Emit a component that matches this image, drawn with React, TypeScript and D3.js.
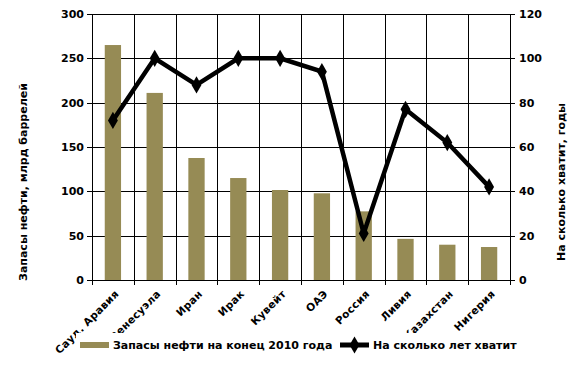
import React from 'react';
import * as d3 from 'd3';

const countries = ['Сауд. Аравия', 'Венесуэла', 'Иран', 'Ирак', 'Кувейт', 'ОАЭ', 'Россия', 'Ливия', 'Казахстан', 'Нигерия'];
const reserves = [265, 211, 137.6, 115, 101.5, 97.8, 77.4, 46.4, 39.8, 37.2];
const yearsLeft = [72, 100, 88, 100, 100, 94, 21, 77, 62, 42];
const leftTicks = [0, 50, 100, 150, 200, 250, 300];
const rightTicks = [0, 20, 40, 60, 80, 100, 120];

const W = 586;
const H = 366;
const margin = { top: 14, right: 76, bottom: 86, left: 92 };
const font = 'DejaVu Sans, sans-serif';
const barColor = '#968b55';

export default function App() {
    const width = W - margin.left - margin.right;
    const height = H - margin.top - margin.bottom;

    const x = d3.scaleBand().domain(countries).range([0, width]);
    const yL = d3.scaleLinear().domain([0, 300]).range([height, 0]);
    const yR = d3.scaleLinear().domain([0, 120]).range([height, 0]);
    const barW = x.bandwidth() * 0.39;

    const line = d3
        .line<number>()
        .x((d, i) => x(countries[i])! + x.bandwidth() / 2)
        .y((d) => yR(d));

    const diamond = d3.symbol().type(d3.symbolDiamond).size(85)();
    const titleY = 182 - margin.top;

    return (
        <svg width={W} height={H} style={{ position: 'absolute', left: 0, top: 0, background: '#fff' }}>
            <g transform={`translate(${margin.left},${margin.top})`} fontFamily={font} fontWeight="bold">
                {/* gridlines */}
                {leftTicks.map((t) => (
                    <line key={'h' + t} x1={0} x2={width} y1={Math.round(yL(t)) + 0.5} y2={Math.round(yL(t)) + 0.5} stroke="#000" />
                ))}
                {countries.map((c) => (
                    <line key={'v' + c} x1={Math.round(x(c)!) + 0.5} x2={Math.round(x(c)!) + 0.5} y1={0} y2={height + 5} stroke="#000" />
                ))}
                <line x1={width + 0.5} x2={width + 0.5} y1={0} y2={height + 5} stroke="#000" />

                {/* bars */}
                {reserves.map((v, i) => (
                    <rect
                        key={'b' + i}
                        x={x(countries[i])! + (x.bandwidth() - barW) / 2}
                        y={yL(v)}
                        width={barW}
                        height={height - yL(v)}
                        fill={barColor}
                    />
                ))}

                {/* left axis */}
                {leftTicks.map((t) => (
                    <g key={'lt' + t} transform={`translate(0,${Math.round(yL(t)) + 0.5})`}>
                        <line x1={-5} x2={0} stroke="#000" />
                        <text x={-8} dy="0.35em" textAnchor="end" fontSize={11}>{t}</text>
                    </g>
                ))}
                {/* right axis */}
                {rightTicks.map((t) => (
                    <g key={'rt' + t} transform={`translate(${width},${Math.round(yR(t)) + 0.5})`}>
                        <line x1={0} x2={5} stroke="#000" />
                        <text x={9} dy="0.35em" textAnchor="start" fontSize={11}>{t}</text>
                    </g>
                ))}

                {/* line series */}
                <path d={line(yearsLeft) ?? ''} fill="none" stroke="#000" strokeWidth={4.5} strokeLinejoin="miter" />
                {yearsLeft.map((v, i) => (
                    <path
                        key={'m' + i}
                        d={diamond!}
                        transform={`translate(${x(countries[i])! + x.bandwidth() / 2},${yR(v)})`}
                        fill="#000"
                    />
                ))}

                {/* category labels */}
                {countries.map((c) => (
                    <text
                        key={'c' + c}
                        transform={`translate(${x(c)! + x.bandwidth() / 2 + 4},${height + 12}) rotate(-45)`}
                        textAnchor="end"
                        fontSize={10.5}
                        dy="0.35em"
                        letterSpacing={0.3}
                    >
                        {c}
                    </text>
                ))}

                {/* axis titles */}
                <text transform={`translate(${-65},${titleY}) rotate(-90)`} textAnchor="middle" fontSize={11}>
                    Запасы нефти, млрд баррелей
                </text>
                <text transform={`translate(${width + 55},${titleY}) rotate(-90)`} textAnchor="middle" fontSize={11}>
                    На сколько хватит, годы
                </text>
            </g>

            {/* legend */}
            <g fontFamily={font} fontWeight="bold" fontSize={11}>
                <rect x={76} y={333} width={446} height={22} fill="#fff" />
                <rect x={80} y={342} width={29} height={6} fill={barColor} />
                <text x={113} y={345} dy="0.35em">Запасы нефти на конец 2010 года</text>
                <line x1={340} x2={369} y1={345} y2={345} stroke="#000" strokeWidth={5} />
                <path d={diamond!} transform="translate(354.5,345)" fill="#000" />
                <text x={373} y={345} dy="0.35em">На сколько лет хватит</text>
            </g>
        </svg>
    );
}
